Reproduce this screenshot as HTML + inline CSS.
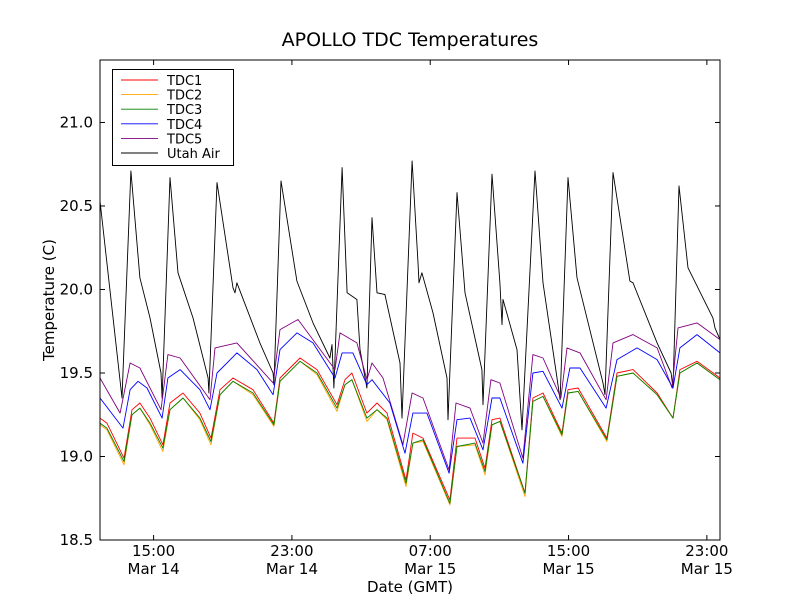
<!DOCTYPE html>
<html><head><meta charset="utf-8"><style>
body{margin:0;background:#fff}
svg{display:block;font-family:"DejaVu Sans","Liberation Sans",sans-serif}
</style></head><body>
<svg id="chart" width="800" height="600" xmlns="http://www.w3.org/2000/svg">
<rect x="0" y="0" width="800" height="600" fill="#fff"/>
<text x="410" y="46" font-size="19" text-anchor="middle">APOLLO TDC Temperatures</text>
<text x="410" y="592" font-size="15" text-anchor="middle">Date (GMT)</text>
<text x="54" y="300" font-size="15" text-anchor="middle" transform="rotate(-90 54 300)">Temperature (C)</text>
<g id="axes"></g>
<g id="series"></g>
<rect x="100" y="60" width="620" height="480" fill="none" stroke="#000" stroke-width="1"/>
<g id="legend"></g>
</svg>
<script>
const yTicks = [18.5, 19.0, 19.5, 20.0, 20.5, 21.0];
const xTickHours = [15, 23, 31, 39, 47];
const xTickTimes = ["15:00", "23:00", "07:00", "15:00", "23:00"];
const xTickDates = ["Mar 14", "Mar 14", "Mar 15", "Mar 15", "Mar 15"];
const seriesNames = ["TDC1", "TDC2", "TDC3", "TDC4", "TDC5", "Utah Air"];
const seriesColors = ["red", "orange", "green", "blue", "purple", "black"];

const tdcTimes = [11.9,12.3,13.29,13.75,14.21,14.79,15.54,15.95,16.7,17.68,18.32,18.84,19.59,20.75,21.96,22.31,23.47,24.45,25.61,26.07,26.47,27.34,27.92,28.5,29.6,30.0,30.58,32.14,32.55,33.59,34.17,34.57,35.03,36.48,36.94,37.52,38.62,38.97,39.55,41.22,41.8,42.73,44.12,45.04,45.44,46.43,47.76];
const tdc1Vals = [19.23,19.20,18.99,19.28,19.32,19.23,19.07,19.32,19.38,19.26,19.11,19.40,19.47,19.40,19.20,19.47,19.59,19.52,19.31,19.46,19.50,19.26,19.32,19.26,18.86,19.14,19.11,18.74,19.11,19.11,18.93,19.22,19.23,18.78,19.35,19.38,19.14,19.40,19.41,19.11,19.50,19.52,19.38,19.23,19.52,19.57,19.47];
const tdc2Vals = [19.19,19.16,18.95,19.25,19.29,19.19,19.03,19.28,19.35,19.22,19.07,19.37,19.45,19.37,19.18,19.45,19.57,19.49,19.27,19.43,19.46,19.21,19.28,19.22,18.82,19.08,19.09,18.71,19.06,19.07,18.89,19.19,19.21,18.76,19.33,19.36,19.12,19.38,19.39,19.09,19.48,19.50,19.37,19.23,19.50,19.56,19.46];
const tdc3Vals = [19.20,19.17,18.97,19.25,19.29,19.20,19.05,19.28,19.35,19.23,19.09,19.37,19.45,19.38,19.19,19.45,19.57,19.50,19.29,19.43,19.46,19.23,19.28,19.23,18.84,19.08,19.10,18.72,19.06,19.08,18.91,19.19,19.21,18.78,19.33,19.36,19.13,19.38,19.39,19.10,19.48,19.50,19.37,19.23,19.50,19.56,19.46];
const tdc4 = [[11.9,19.35],[13.23,19.17],[13.64,19.40],[14.1,19.45],[14.62,19.41],[15.49,19.23],[15.83,19.47],[16.53,19.52],[17.68,19.40],[18.26,19.28],[18.67,19.50],[19.82,19.62],[20.98,19.52],[21.91,19.37],[22.31,19.64],[23.29,19.74],[24.22,19.68],[25.49,19.47],[25.9,19.62],[26.53,19.62],[27.34,19.43],[27.63,19.46],[28.67,19.32],[29.54,19.02],[30.0,19.26],[30.81,19.26],[32.09,18.90],[32.55,19.22],[33.3,19.23],[34.05,19.04],[34.57,19.35],[35.03,19.35],[36.36,18.96],[36.94,19.50],[37.52,19.51],[38.62,19.29],[39.08,19.53],[39.66,19.53],[41.17,19.29],[41.8,19.58],[42.96,19.65],[44.12,19.58],[45.04,19.41],[45.44,19.65],[46.43,19.73],[47.76,19.62]];
const tdc5 = [[11.9,19.47],[13.06,19.26],[13.64,19.56],[14.21,19.53],[15.43,19.28],[15.83,19.61],[16.53,19.59],[18.26,19.34],[18.55,19.65],[19.82,19.68],[21.91,19.44],[22.31,19.76],[23.35,19.82],[25.49,19.52],[25.78,19.74],[26.76,19.68],[27.34,19.46],[27.63,19.56],[28.27,19.47],[29.42,19.07],[29.95,19.38],[30.58,19.35],[32.09,18.92],[32.49,19.32],[33.3,19.29],[34.05,19.08],[34.51,19.46],[35.03,19.44],[36.36,18.99],[36.94,19.61],[37.52,19.59],[38.56,19.35],[38.91,19.65],[39.66,19.62],[41.17,19.34],[41.57,19.68],[42.73,19.73],[44.12,19.65],[44.99,19.41],[45.33,19.77],[46.43,19.80],[47.76,19.70]];
const utahAir = [[11.9,20.53],[13.17,19.35],[13.69,20.71],[14.21,20.07],[14.79,19.83],[15.43,19.50],[15.49,19.35],[15.95,20.67],[16.41,20.10],[17.28,19.83],[18.15,19.47],[18.2,19.38],[18.67,20.64],[19.59,20.01],[19.71,19.98],[19.82,20.04],[21.15,19.68],[21.91,19.50],[21.96,19.43],[22.37,20.65],[23.29,20.05],[24.22,19.80],[25.2,19.59],[25.32,19.67],[25.43,19.41],[25.9,20.73],[26.19,19.98],[26.76,19.94],[26.94,19.64],[27.34,19.41],[27.63,20.43],[27.92,19.98],[28.38,19.97],[29.25,19.56],[29.37,19.23],[29.95,20.77],[30.29,20.16],[30.35,20.04],[30.52,20.10],[31.16,19.86],[31.97,19.47],[32.03,19.22],[32.55,20.58],[33.01,19.98],[33.99,19.52],[34.05,19.31],[34.57,20.69],[35.03,20.04],[35.15,19.79],[35.21,19.94],[36.02,19.64],[36.31,19.16],[37.06,20.71],[37.52,20.04],[38.33,19.47],[38.51,19.34],[38.97,20.67],[39.49,20.07],[40.99,19.44],[41.11,19.37],[41.57,20.70],[42.55,20.05],[42.73,20.04],[44.12,19.68],[44.93,19.50],[45.04,19.41],[45.39,20.62],[45.91,20.13],[47.35,19.83],[47.47,19.77],[47.76,19.70]];

const NS = "http://www.w3.org/2000/svg";
const X0 = 100, X1 = 720, Y0 = 60, Y1 = 540;
const T0 = 11.9, T1 = 47.76, V0 = 18.5, V1 = 21.374;
function xs(t){ return X0 + (t - T0) / (T1 - T0) * (X1 - X0); }
function ys(v){ return Y1 - (v - V0) / (V1 - V0) * (Y1 - Y0); }
function mk(tag, attrs){ const e = document.createElementNS(NS, tag); for (const k in attrs) e.setAttribute(k, attrs[k]); return e; }

const axes = document.getElementById("axes");
yTicks.forEach(v => {
  const y = ys(v);
  const l1 = mk("line", {x1: X0, x2: X0 + 5, y1: y, y2: y, stroke: "#000"});
  
  
  axes.appendChild(l1);
  const l2 = mk("line", {x1: X1 - 5, x2: X1, y1: y, y2: y, stroke: "#000"});
  
  
  axes.appendChild(l2);
  const t = mk("text", {x: X0 - 7, y: y + 5, "font-size": 15, "text-anchor": "end"});
  t.textContent = v.toFixed(1);
  
  
  axes.appendChild(t);
});
xTickHours.forEach((h, i) => {
  const x = xs(h);
  const l1 = mk("line", {x1: x, x2: x, y1: Y1, y2: Y1 - 5, stroke: "#000"});
  
  
  axes.appendChild(l1);
  const l2 = mk("line", {x1: x, x2: x, y1: Y0, y2: Y0 + 5, stroke: "#000"});
  
  
  axes.appendChild(l2);
  const t1 = mk("text", {x: x, y: 556, "font-size": 15, "text-anchor": "middle"});
  t1.textContent = xTickTimes[i];
  
  
  axes.appendChild(t1);
  const t2 = mk("text", {x: x, y: 574, "font-size": 15, "text-anchor": "middle"});
  t2.textContent = xTickDates[i];
  
  
  axes.appendChild(t2);
});

const seriesG = document.getElementById("series");
function drawLine(pairs, color, name){
  const d = pairs.map((p, i) => (i ? "L" : "M") + xs(p[0]).toFixed(1) + "," + ys(p[1]).toFixed(1)).join("");
  const path = mk("path", {d: d, fill: "none", stroke: color, "stroke-width": 0.9, "stroke-linejoin": "round"});
  
  
  seriesG.appendChild(path);
}
const zip = vals => tdcTimes.map((t, i) => [t, vals[i]]);
drawLine(utahAir, "black", "utah-air-line");
drawLine(tdc5, "purple", "tdc5-line");
drawLine(tdc4, "blue", "tdc4-line");
drawLine(zip(tdc1Vals), "red", "tdc1-line");
drawLine(zip(tdc2Vals), "orange", "tdc2-line");
drawLine(zip(tdc3Vals), "green", "tdc3-line");

const lg = document.getElementById("legend");
const box = mk("rect", {x: 112.5, y: 69.5, width: 121, height: 96, fill: "#fff", stroke: "#000"});


lg.appendChild(box);
seriesNames.forEach((n, i) => {
  const y = 80 + i * 14.6;
  const l = mk("line", {x1: 121, x2: 158, y1: y, y2: y, stroke: seriesColors[i], "stroke-width": 0.9});
  
  
  lg.appendChild(l);
  const t = mk("text", {x: 167, y: y + 5, "font-size": 13});
  t.textContent = n;
  
  
  lg.appendChild(t);
});
</script>
</body></html>
